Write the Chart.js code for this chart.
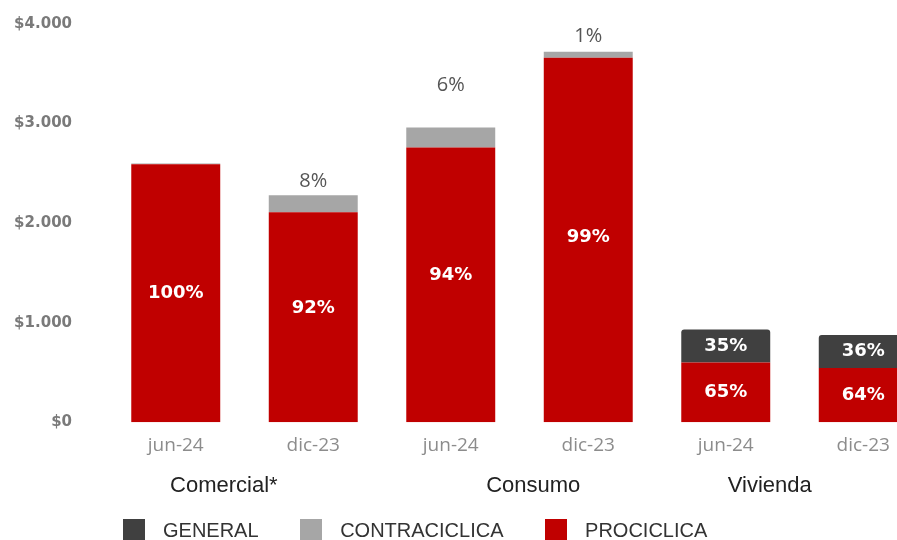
<!DOCTYPE html>
<html>
<head>
  <meta charset="UTF-8">
  <script src="https://cdn.jsdelivr.net/npm/chart.js"></script>
  <title>Cartera</title>
  <style>
    html, body { margin: 0; padding: 0; background: #fff; overflow: hidden; }
    .wrap { position: relative; width: 932px; height: 540px; }
    .legend { position: absolute; left: 123px; top: 519px; font: 20px "Liberation Sans", Arial, sans-serif; color: #333; white-space: nowrap; }
    .legend span.box { display: inline-block; width: 22px; height: 21px; vertical-align: -3px; margin-right: 18px; }
    .legend span.item { margin-right: 36px; }
  </style>
</head>
<body>
  <div class="wrap">
    <canvas id="myChart" width="932" height="540"></canvas>
    <div class="legend">
      <span class="box" style="background:#404040"></span><span class="item">GENERAL</span>
      <span class="box" style="background:#a6a6a6"></span><span class="item">CONTRACICLICA</span>
      <span class="box" style="background:#c00000"></span><span class="item">PROCICLICA</span>
    </div>
  </div>
  <script>
    // valores (miles de millones)
    var periodos = ['jun-24', 'dic-23', 'jun-24', 'dic-23', 'jun-24', 'dic-23'];
    var grupos = ['Comercial*', 'Consumo', 'Vivienda'];
    var prociclica = [2590, 2110, 2760, 3660, 600, 545];
    var contraciclica = [8, 170, 200, 60, 0, 0];
    var general = [0, 0, 0, 0, 330, 330];
    var pctPro = ['100%', '92%', '94%', '99%', '65%', '64%'];
    var pctContra = ['', '8%', '6%', '1%', '', ''];
    var pctGeneral = ['', '', '', '', '35%', '36%'];
    var yTicks = [0, 1000, 2000, 3000, 4000];

    function fmt(v) {
      return '$' + v.toString().replace(/\B(?=(\d{3})+(?!\d))/g, '.');
    }

    var labelPlugin = {
      id: 'etiquetas',
      afterDatasetsDraw: function (chart) {
        var ctx = chart.ctx;
        var x = chart.scales.x;
        var metaPro = chart.getDatasetMeta(0);
        var metaCon = chart.getDatasetMeta(1);
        var metaGen = chart.getDatasetMeta(2);
        var lift = [14, 14, 42, 16, 14, 14];
        ctx.save();
        ctx.textAlign = 'center';
        ctx.textBaseline = 'middle';
        for (var i = 0; i < periodos.length; i++) {
          var p = metaPro.data[i], c = metaCon.data[i], g = metaGen.data[i];
          ctx.font = 'bold 18px "DejaVu Sans", sans-serif';
          ctx.fillStyle = '#ffffff';
          var yPro;
          if (general[i] > 0) {
            yPro = (p.y + p.base) / 2;
          } else {
            yPro = (c.y + p.base) / 2;
          }
          ctx.fillText(pctPro[i], p.x, yPro);
          if (pctGeneral[i]) {
            ctx.fillText(pctGeneral[i], g.x, (g.y + g.base) / 2);
          }
          if (pctContra[i]) {
            ctx.font = '20px "Open Sans", sans-serif';
            ctx.fillStyle = '#555555';
            ctx.fillText(pctContra[i], c.x, c.y - lift[i]);
          }
        }
        // nombres de grupo
        var shift = [-0.15, 0.1, -0.18];
        ctx.font = '22px "Liberation Sans", Arial, sans-serif';
        ctx.fillStyle = '#222222';
        for (var k = 0; k < grupos.length; k++) {
          var cx = x.getPixelForValue(2 * k + 0.5 + shift[k]);
          ctx.fillText(grupos[k], cx, 486);
        }
        ctx.restore();
      }
    };

    var ctx = document.getElementById('myChart').getContext('2d');
    var chart = new Chart(ctx, {
      type: 'bar',
      data: {
        labels: periodos,
        datasets: [{
          label: 'PROCICLICA',
          data: prociclica,
          backgroundColor: '#c00000'
        }, {
          label: 'CONTRACICLICA',
          data: contraciclica,
          backgroundColor: '#a6a6a6'
        }, {
          label: 'GENERAL',
          data: general,
          backgroundColor: '#404040',
          borderRadius: { topLeft: 3, topRight: 3 },
          borderSkipped: 'bottom'
        }]
      },
      options: {
        responsive: false,
        animation: false,
        datasets: { bar: { categoryPercentage: 1, barPercentage: 0.647 } },
        layout: { padding: { top: 24, bottom: 71, right: 0, left: 0 } },
        plugins: {
          legend: { display: false },
          tooltip: { enabled: false }
        },
        scales: {
          x: {
            stacked: true,
            grid: { display: false, drawTicks: false },
            border: { display: false },
            ticks: { color: '#8c8c8c', font: { family: 'Open Sans', size: 19 }, padding: 12 }
          },
          y: {
            stacked: true,
            min: 0,
            max: 4000,
            afterBuildTicks: function (axis) {
              axis.ticks = yTicks.map(function (v) { return { value: v }; });
            },
            afterFit: function (axis) {
              axis.width = 107;
              axis.paddingTop = 0;
              axis.paddingBottom = 0;
            },
            grid: { display: false, drawTicks: false },
            border: { display: false },
            ticks: {
              color: '#7a7a7a',
              padding: 35,
              font: { family: 'DejaVu Sans', size: 15, weight: 'bold' },
              callback: function (v) { return fmt(v); }
            }
          }
        }
      },
      plugins: [labelPlugin]
    });
  </script>
</body>
</html>
